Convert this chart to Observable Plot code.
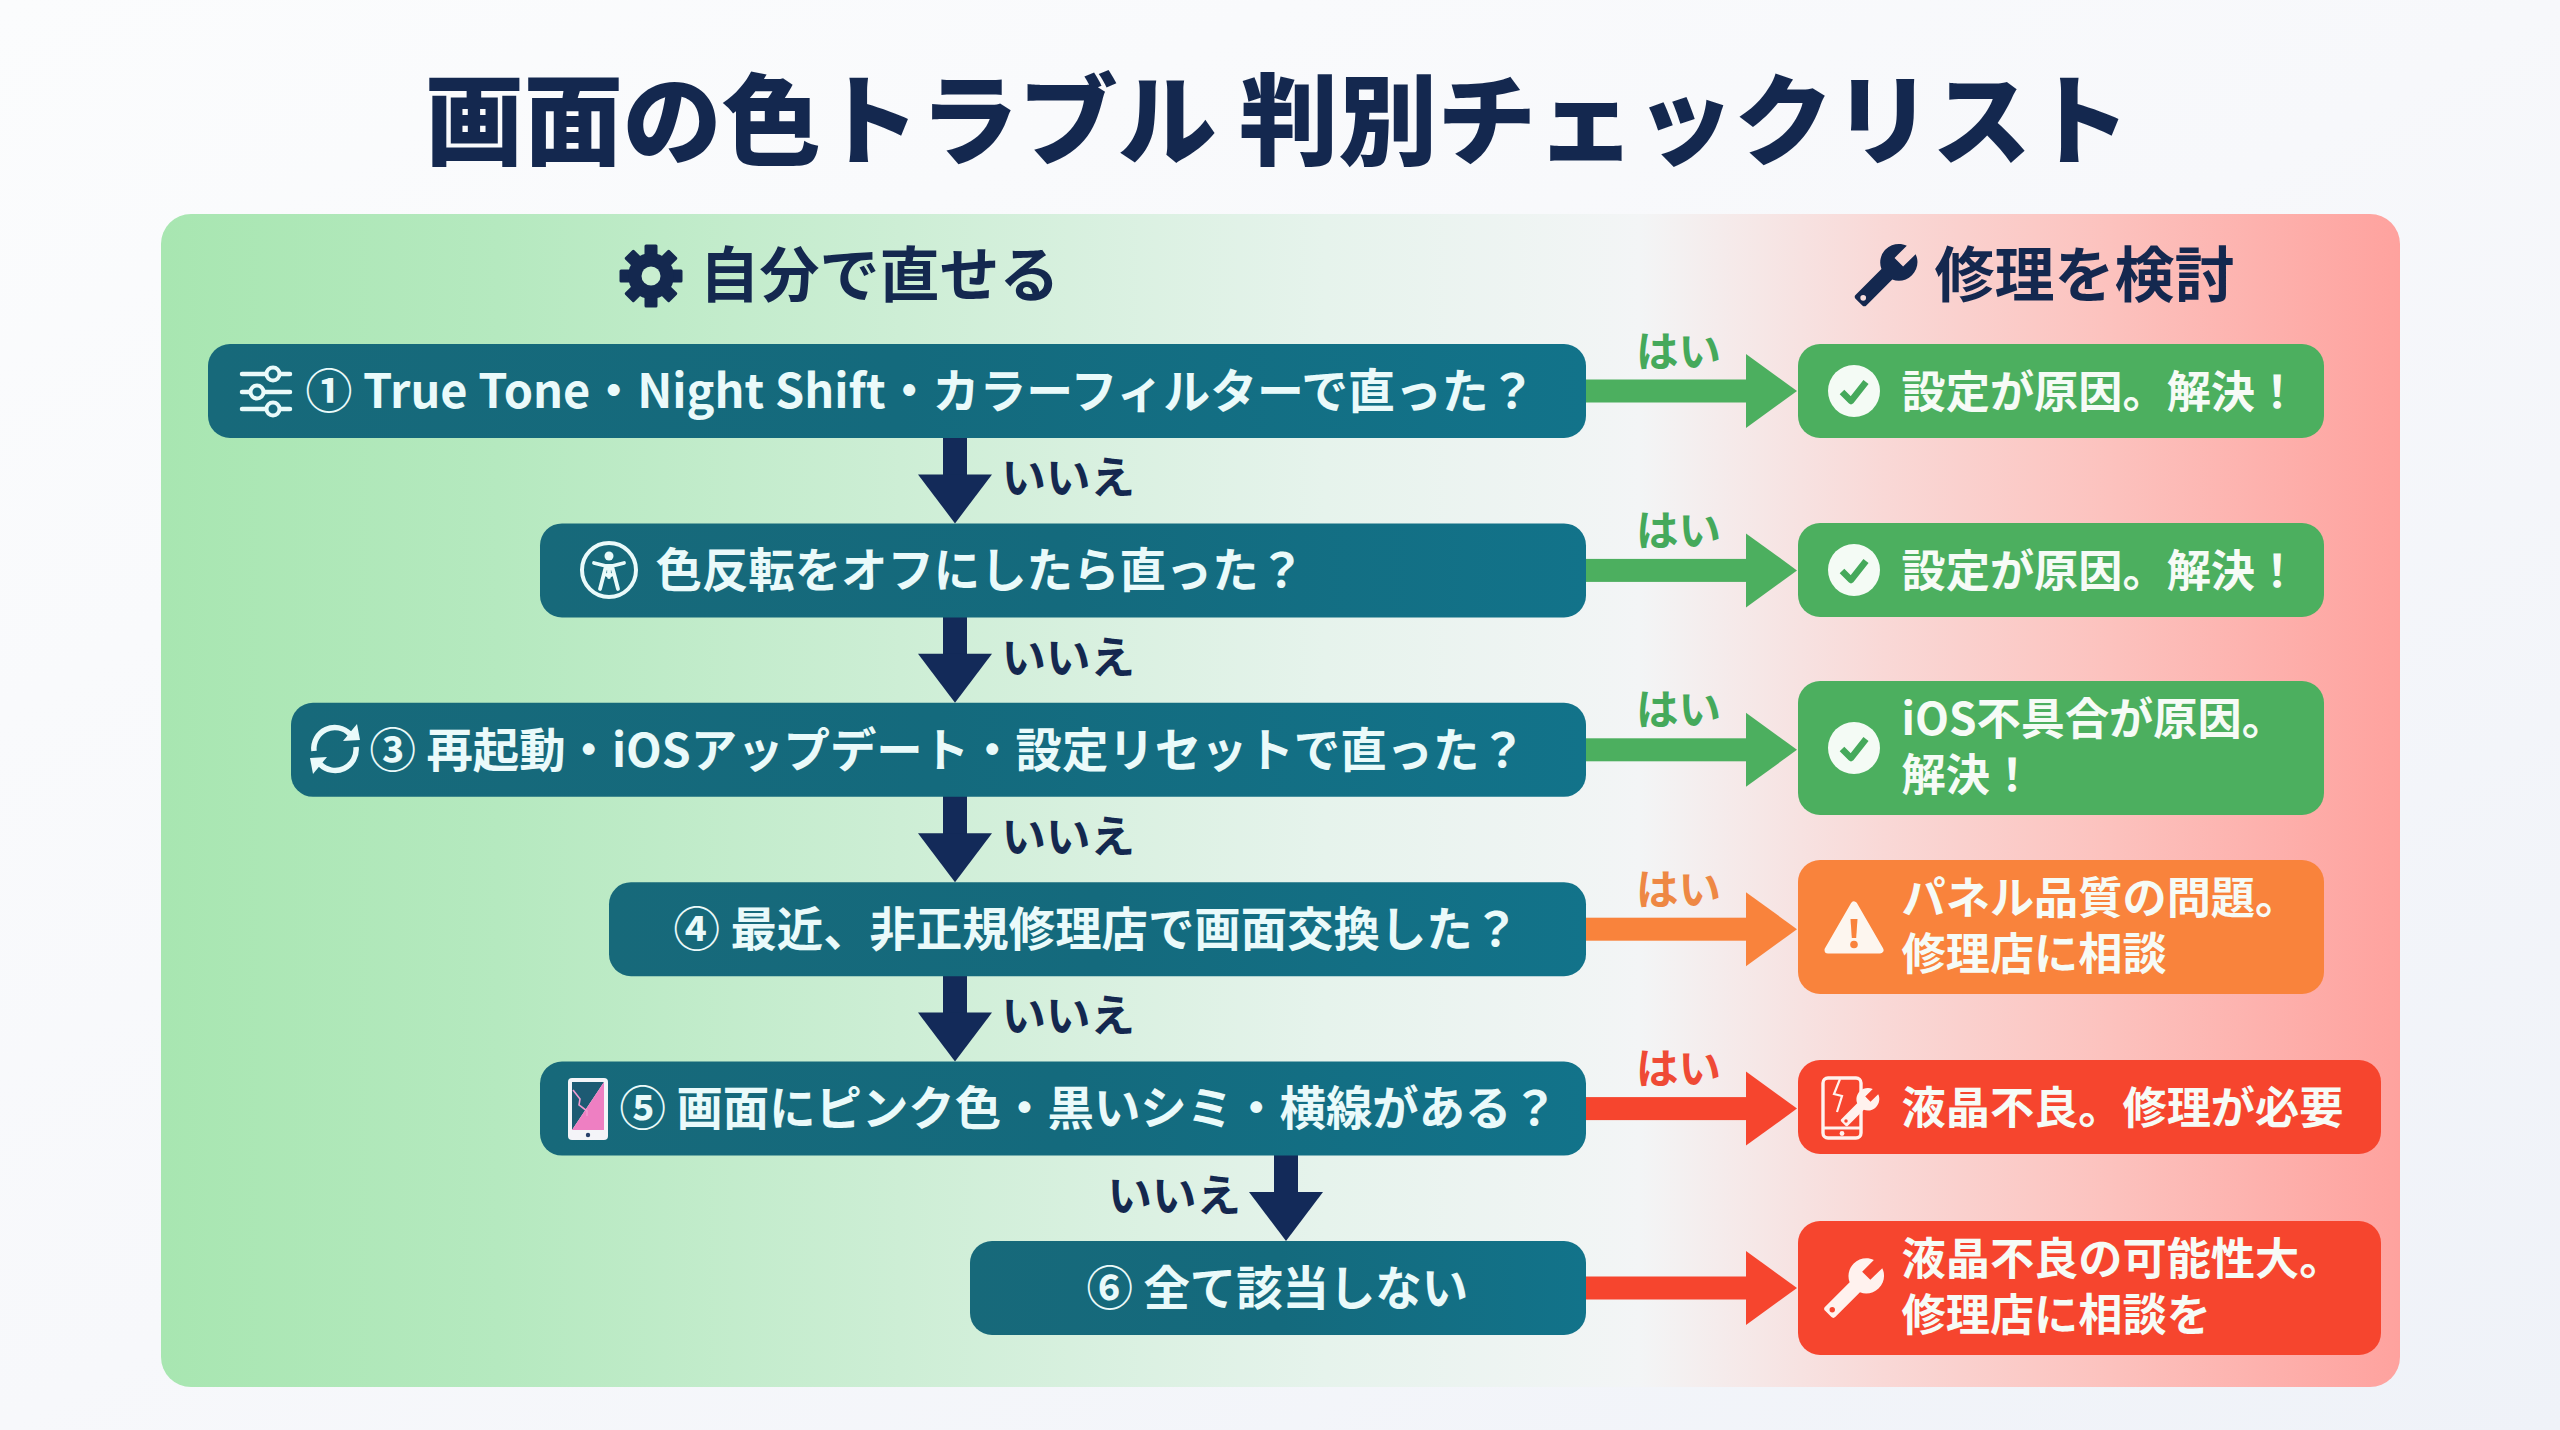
<!DOCTYPE html>
<html lang="ja">
<head>
<meta charset="utf-8">
<style>html,body{margin:0;padding:0;background:#f6f8fb;overflow:hidden}svg{display:block}</style>
<script src="https://cdn.jsdelivr.net/npm/d3@7"></script>
<script src="https://cdn.jsdelivr.net/npm/@observablehq/plot@0.6"></script>
</head>
<body>
<script>
// ---- content ----
const title = "画面の色トラブル 判別チェックリスト";
const zoneLabels = ["自分で直せる", "修理を検討"];
const questions = [
  "① True Tone・Night Shift・カラーフィルターで直った？",
  "色反転をオフにしたら直った？",
  "③ 再起動・iOSアップデート・設定リセットで直った？",
  "④ 最近、非正規修理店で画面交換した？",
  "⑤ 画面にピンク色・黒いシミ・横線がある？",
  "⑥ 全て該当しない"
];
const outcomes = [
  "設定が原因。解決！",
  "設定が原因。解決！",
  "iOS不具合が原因。\n解決！",
  "パネル品質の問題。\n修理店に相談",
  "液晶不良。修理が必要",
  "液晶不良の可能性大。\n修理店に相談を"
];
const severities = ["ok", "ok", "ok", "warn", "bad", "bad"];
const yesLabel = "はい";
const noLabel = "いいえ";

// ---- layout (reference canvas units, mapped through the x and y scales) ----
const W = 2560, H = 1430;
const rowY = i => 391 + i * 179.4;
const boxH = 47;
const boxRight = 1586, resultLeft = 1798;
const questionLeft = [208, 540, 291, 609, 540, 970];
const questionTextX = [305, 655, 369, 673, 619, 1086];
const questionSize = [46.9, 46.4, 46.4, 46.4, 46.4, 46.4];
const resultRight = [2324, 2324, 2324, 2324, 2381, 2381];
const resultHalf = [47, 47, 67, 67, 47, 67];
const resultCy = [391, 570, 748, 927, 1107, 1288];
const resultTextCy = [390, 569, 745, 924, 1106, 1285];
const arrowX = [955, 955, 955, 955, 1286];
const fills = {ok: "#4caf5f", warn: "#f9833c", bad: "#f6452e"};
const yesFills = {ok: "#45a95b", warn: "#ee8844", bad: "#ef4a35"};
const navy = "#14284f", arrowNavy = "#132a59", light = "#eafafa";
const font = '"Noto Sans CJK JP"';

const rows = questions.map((q, i) => ({
  i, q, left: questionLeft[i], tx: questionTextX[i], y: rowY(i), qs: questionSize[i],
  sev: severities[i], fill: fills[severities[i]], yesFill: yesFills[severities[i]],
  out: outcomes[i], right: resultRight[i], cy: resultCy[i], half: resultHalf[i], ty: resultTextCy[i]
}));

const headsRight = rows.flatMap(r => [
  {i: r.i, x: 1746, y1: r.y - 37, y2: r.y + 37, fill: r.fill},
  {i: r.i, x: 1797, y1: r.y, y2: r.y, fill: r.fill}
]);
const downs = arrowX.map((x, i) => ({i, x, top: rowY(i) + boxH, tip: rowY(i + 1) - boxH}));
const headsDown = downs.flatMap(d => [
  {i: d.i, x1: d.x - 37, x2: d.x + 37, y: d.tip - 49},
  {i: d.i, x1: d.x, x2: d.x, y: d.tip}
]);

// ---- icons ----
const gearTeeth = d3.range(8).map(k =>
  `<rect x="-6.5" y="-31.5" width="13" height="15" rx="1.5" fill="${navy}" transform="rotate(${k * 45})"/>`).join("");
const wrenchD = "M22.7 19l-9.1-9.1c.9-2.3.4-5-1.5-6.9-2-2-5-2.4-7.4-1.3L9 6 6 9 1.6 4.7C.4 7.1.9 10.1 2.9 12.1c1.9 1.9 4.6 2.4 6.9 1.5l9.1 9.1c.4.4 1 .4 1.4 0l2.3-2.3c.5-.4.5-1.1.1-1.4z";
const wrench = (s, c, hole) =>
  `<g transform="scale(${-s},${s}) translate(-12,-12)"><path d="${wrenchD}" fill="${c}"/><circle cx="20" cy="20" r="1" fill="${hole}"/></g>`;
const iconMarkup = {
  gear: `${gearTeeth}<circle r="23" fill="${navy}"/><circle r="9.5" fill="#c9eed0"/>`,
  headWrench: wrench(2.85, navy, "#f6dcdc"),
  sliders: `<g stroke="${light}" stroke-width="4.5" stroke-linecap="round">
    <path d="M-24,-18H24M-24,0H24M-24,17H24"/></g>
    <g fill="#166a7e" stroke="${light}" stroke-width="4"><circle cx="7" cy="-18" r="6.5"/><circle cx="-9" cy="0" r="6.5"/><circle cx="7" cy="17" r="6.5"/></g>`,
  person: `<circle r="27" fill="none" stroke="${light}" stroke-width="4"/><circle cy="-14" r="4.5" fill="${light}"/>
    <path d="M-15,-7L-3,-4L-9,19M15,-7L3,-4L9,19M-3,-4H3M-2,5H2M0,-4V7" fill="none" stroke="${light}" stroke-width="3.8" stroke-linecap="round" stroke-linejoin="round"/>`,
  refresh: `<g fill="none" stroke="${light}" stroke-width="5.5"><path d="M-21,2A21,21 0 0 1 15,-15"/><path d="M21,-2A21,21 0 0 1 -15,15"/></g>
    <g fill="${light}"><path d="M8,-8L25,-9L22,-25Z"/><path d="M-8,8L-25,9L-22,25Z"/></g>`,
  pinkPhone: `<rect x="-20" y="-31" width="40" height="62" rx="4" fill="#f4f4f8"/>
    <path d="M-16,-27H16L-16,21Z" fill="#1d5a73"/><path d="M16,-27V21H-16Z" fill="#ee7fc2"/>
    <path d="M-15,-19L-8,-10L-9,-4L-1,2L-1,7" fill="none" stroke="#f29ad0" stroke-width="1.6"/>
    <circle cy="26" r="2.2" fill="#28406b"/>`,
  warning: `<path d="M0,-23L26,22H-26Z" fill="#fdf6ef" stroke="#fdf6ef" stroke-width="7" stroke-linejoin="round"/>
    <path d="M-3.5,-9H3.5L2.2,10H-2.2Z" fill="#f9833c"/><circle cy="16.5" r="3.8" fill="#f9833c"/>`,
  crackPhone: `<rect x="-29" y="-30" width="38" height="60" rx="5" fill="none" stroke="#fff2ee" stroke-width="3.4"/>
    <path d="M-29,20H9" stroke="#fff2ee" stroke-width="3"/><circle cx="-10" cy="25.5" r="2.4" fill="#fff2ee"/>
    <path d="M-12,-29L-18,-14L-10,-12L-15,4" fill="none" stroke="#fff2ee" stroke-width="2.2"/>
    <g transform="translate(8,-1)">${wrench(1.75, "#fff2ee", fills.bad)}</g>`,
  bigWrench: wrench(2.72, "#fff2ee", fills.bad),
  checkIcon: `<circle r="26" fill="#f4fbf5"/><path d="M-12,1L-3,10L12,-9" fill="none" stroke="#45a95b" stroke-width="6.5" stroke-linejoin="round"/>`
};
const icons = [
  {name: "gear", x: 651, y: 276}, {name: "headWrench", x: 1886, y: 275},
  {name: "sliders", x: 266, y: 392}, {name: "person", x: 609, y: 570},
  {name: "refresh", x: 335, y: 749}, {name: "pinkPhone", x: 588, y: 1109},
  {name: "checkIcon", x: 1854, y: 391}, {name: "checkIcon", x: 1854, y: 570},
  {name: "checkIcon", x: 1854, y: 748}, {name: "warning", x: 1854, y: 928},
  {name: "crackPhone", x: 1852, y: 1108}, {name: "bigWrench", x: 1854, y: 1288}
];

function defs() {
  const d = d3.create("svg:defs");
  const grad = (id, stops, coords = {x1: 0, x2: 1, y1: 0, y2: 0}) => {
    const g = d.append("linearGradient").attr("id", id);
    Object.entries(coords).forEach(([k, v]) => g.attr(k, v));
    stops.forEach(([o, c]) => g.append("stop").attr("offset", o).attr("stop-color", c));
  };
  grad("bg", [[0, "#fbfcfd"], [0.5, "#f7f8fb"], [1, "#eff2f8"]], {x1: 0, x2: 1, y1: 0, y2: 1});
  grad("panel", [[0, "#a8e6b1"], [0.15, "#b5e9bf"], [0.33, "#cdeed5"], [0.52, "#e6f3ec"], [0.66, "#f3f5f6"],
                 [0.77, "#f9d8d6"], [0.87, "#fcc2be"], [1, "#fea29e"]]);
  grad("teal", [[0, "#17697a"], [0.5, "#146a7d"], [1, "#12738a"]]);
  return d.node();
}
function iconMark(index, {x, y}) {
  const g = d3.create("svg:g");
  icons.forEach(ic => g.append("g")
    .attr("transform", `translate(${x(ic.x)},${y(ic.y)})`)
    .html(iconMarkup[ic.name]));
  return g.node();
}

const textBase = {fontFamily: font, fontWeight: 700, lineAnchor: "middle"};
const chart = Plot.plot({
  width: W, height: H, margin: 0,
  style: {background: "transparent"},
  x: {domain: [0, W], range: [0, W], axis: null},
  y: {domain: [0, H], range: [0, H], axis: null},
  color: {type: "identity"},
  marks: [
    defs,
    Plot.rect([0], {x1: 0, x2: W, y1: 0, y2: H, fill: "url(#bg)"}),
    Plot.rect([0], {x1: 161, x2: 2400, y1: 214, y2: 1387, rx: 30, fill: "url(#panel)"}),

    // horizontal arrows
    Plot.rect(rows, {x1: boxRight - 4, x2: 1748, y1: d => d.y - 11.5, y2: d => d.y + 11.5, fill: "fill"}),
    Plot.area(headsRight, {x1: "x", y1: "y1", y2: "y2", z: "i", fill: "fill"}),
    // vertical arrows
    Plot.rect(downs, {x1: d => d.x - 12, x2: d => d.x + 12, y1: d => d.top - 2, y2: d => d.tip - 47, fill: arrowNavy}),
    Plot.area(headsDown, {x1: "x1", x2: "x2", y1: "y", z: "i", fill: arrowNavy}),

    // boxes
    Plot.rect(rows, {x1: "left", x2: boxRight, y1: d => d.y - boxH, y2: d => d.y + boxH, rx: 22, fill: "url(#teal)"}),
    Plot.rect(rows, {x1: resultLeft, x2: "right", y1: d => d.cy - d.half, y2: d => d.cy + d.half, rx: 22, fill: "fill"}),

    // text
    Plot.text([title], {...textBase, x: 1277, y: 125, text: d => d, fontSize: 99, fontWeight: 900, fill: navy}),
    Plot.text(zoneLabels, {...textBase, x: (d, i) => [699, 1934][i], y: 277.5, text: d => d, textAnchor: "start", fontSize: 60, fill: navy}),
    Plot.text(rows, {...textBase, x: "tx", y: d => d.y + 1.5, text: "q", textAnchor: "start", fontSize: "qs", fill: light}),
    Plot.text(rows, {...textBase, x: 1901, y: "ty", text: "out", textAnchor: "start", fontSize: 44.2, lineHeight: 1.26, fill: "#f6fbf6"}),
    Plot.text(rows.slice(0, 5), {...textBase, x: 1678, y: d => d.y - 38.5, text: () => yesLabel, fontSize: 42.5, fill: "yesFill"}),
    Plot.text(downs, {...textBase, x: (d, i) => (i === 4 ? 1107 : 1001), y: d => rowY(d.i) + 88.5, text: () => noLabel, textAnchor: "start", fontSize: 44.5, fill: navy}),

    iconMark
  ]
});
document.body.appendChild(chart);
</script>
</body>
</html>
